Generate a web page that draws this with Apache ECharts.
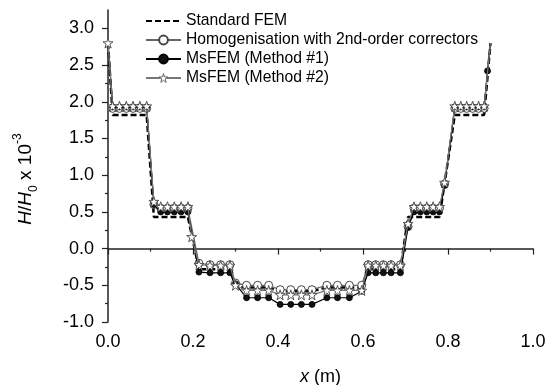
<!DOCTYPE html>
<html>
<head>
<meta charset="utf-8">
<script src="https://cdn.jsdelivr.net/npm/echarts@6/dist/echarts.min.js"></script>
<style>html,body{margin:0;padding:0;background:#fff}#c{width:554px;height:385px}</style>
</head>
<body>
<div id="c"></div>
<script>
// x positions (m)
const xs = [0, 0.011, 0.027, 0.043, 0.059, 0.075, 0.091,
  0.108, 0.124, 0.14, 0.156, 0.172, 0.188, 0.197,
  0.214, 0.24, 0.265, 0.287, 0.3,
  0.326, 0.352, 0.378, 0.405, 0.43, 0.455, 0.48, 0.515, 0.54, 0.568, 0.597,
  0.612, 0.63, 0.648, 0.666, 0.688, 0.706,
  0.72, 0.735, 0.75, 0.765, 0.78, 0.792,
  0.816, 0.83, 0.844, 0.858, 0.872, 0.885, 0.893, 0.9];
// H/H0 x 10^-3 values per series (null = no node)
const stdFEM = [2.8, 1.82, 1.82, 1.82, 1.82, 1.82, 1.82,
  0.43, 0.43, 0.43, 0.43, 0.43, 0.43, null,
  -0.28, -0.28, -0.28, -0.28, -0.52,
  -0.53, -0.53, -0.53, -0.58, -0.58, -0.58, -0.58, -0.53, -0.53, -0.53, -0.53,
  -0.28, -0.28, -0.28, -0.28, -0.28, 0.43,
  0.43, 0.43, 0.43, 0.43, 0.43, null,
  1.82, 1.82, 1.82, 1.82, 1.82, 1.82, null, 2.8];
const homog = [2.8, 1.91, 1.91, 1.91, 1.91, 1.91, 1.91,
  0.6, 0.55, 0.55, 0.55, 0.55, 0.55, null,
  -0.2, -0.22, -0.22, -0.22, -0.47,
  -0.5, -0.5, -0.5, -0.56, -0.56, -0.56, -0.56, -0.5, -0.5, -0.5, -0.5,
  -0.22, -0.22, -0.22, -0.22, -0.22, 0.3,
  0.55, 0.55, 0.55, 0.55, 0.55, 0.88,
  1.91, 1.91, 1.91, 1.91, 1.91, 1.91, null, 2.8];
const msfem1 = [2.8, 1.93, 1.93, 1.93, 1.93, 1.93, 1.93,
  0.6, 0.5, 0.5, 0.5, 0.5, 0.5, null,
  -0.32, -0.33, -0.33, -0.33, -0.48,
  -0.67, -0.67, -0.67, -0.76, -0.76, -0.76, -0.76, -0.67, -0.67, -0.67, -0.58,
  -0.33, -0.33, -0.33, -0.33, -0.33, 0.29,
  0.5, 0.5, 0.5, 0.5, 0.5, 0.86,
  1.93, 1.93, 1.93, 1.93, 1.93, 1.93, 2.42, 2.8];
const msfem2 = [2.8, 1.94, 1.94, 1.94, 1.94, 1.94, 1.94,
  0.64, 0.57, 0.57, 0.57, 0.57, 0.57, 0.16,
  -0.22, -0.23, -0.23, -0.23, -0.5,
  -0.57, -0.57, -0.57, -0.63, -0.63, -0.63, -0.63, -0.57, -0.57, -0.57, -0.57,
  -0.23, -0.23, -0.23, -0.23, -0.23, 0.34,
  0.57, 0.57, 0.57, 0.57, 0.57, 0.9,
  1.94, 1.94, 1.94, 1.94, 1.94, 1.94, null, 2.8];
const seriesNames = ['Standard FEM', 'Homogenisation with 2nd-order correctors', 'MsFEM (Method #1)', 'MsFEM (Method #2)'];
const xTickValues = [0, 0.2, 0.4, 0.6, 0.8, 1.0];
const yTickValues = [-1.0, -0.5, 0.0, 0.5, 1.0, 1.5, 2.0, 2.5, 3.0];
const yMinorTickValues = [-0.75, -0.25, 0.25, 0.75, 1.25, 1.75, 2.25, 2.75];
// indices where the node has no visible marker
const hiddenMarkers = { homog: [0, 49], msfem1: [0, 49], msfem2: [49] };

function build(ys, hidden) {
  const out = [];
  xs.forEach((x, i) => {
    if (ys[i] === null) return;
    if (hidden && hidden.indexOf(i) >= 0) out.push({ value: [x, ys[i]], symbol: 'none' });
    else out.push([x, ys[i]]);
  });
  return out;
}

const STAR = 'path://M50,2 L61,36 L97,36 L68,57 L79,92 L50,71 L21,92 L32,57 L3,36 L39,36 Z';
const FONT = 'Liberation Sans, Arial, sans-serif';

const chart = echarts.init(document.getElementById('c'), null, { renderer: 'canvas' });
chart.setOption({
  animation: false,
  backgroundColor: '#fff',
  grid: { left: 108, right: 21, top: 10, bottom: 63, containLabel: false, outerBoundsMode: 'none' },
  legend: {
    data: [
      { name: seriesNames[0] },
      { name: seriesNames[1] },
      { name: seriesNames[2] },
      { name: seriesNames[3], itemStyle: { color: '#fff', borderColor: '#666', borderWidth: 1 } }
    ],
    orient: 'vertical',
    left: 140, top: 8,
    itemWidth: 35, itemHeight: 11, itemGap: 3,
    textStyle: { fontFamily: FONT, fontSize: 15.7, color: '#000' },
    selectedMode: false
  },
  xAxis: {
    type: 'value', min: 0, max: 1.0, interval: 0.2,
    name: '{i|x} (m)', nameLocation: 'middle', nameGap: 46,
    nameTextStyle: { fontFamily: FONT, fontSize: 18, color: '#000', rich: { i: { fontFamily: FONT, fontSize: 18, fontStyle: 'italic' } } },
    axisLine: { show: true, lineStyle: { color: '#222', width: 1.5 } },
    axisTick: { show: true, inside: false, length: 6, lineStyle: { color: '#222', width: 1.2 } },
    minorTick: { show: true, splitNumber: 2, length: 3, lineStyle: { color: '#222', width: 1.2 } },
    axisLabel: { margin: 11, fontFamily: FONT, fontSize: 18, color: '#000', formatter: v => v.toFixed(1), customValues: xTickValues },
    splitLine: { show: false }
  },
  yAxis: [{
    type: 'value', min: -1.0, max: 3.25, interval: 0.5,
    name: '{i|H}/{i|H}{sub|0} x 10{sup|-3}', nameLocation: 'middle', nameGap: 68, nameRotate: 90,
    nameTextStyle: {
      fontFamily: FONT, fontSize: 19, color: '#000', padding: [0, 26, 0, 0],
      rich: {
        i: { fontFamily: FONT, fontSize: 19, fontStyle: 'italic', lineHeight: 28 },
        sub: { fontFamily: FONT, fontSize: 12, lineHeight: 12, verticalAlign: 'bottom' },
        sup: { fontFamily: FONT, fontSize: 12, lineHeight: 12, verticalAlign: 'top' }
      }
    },
    axisLine: { show: true, onZero: false, lineStyle: { color: '#222', width: 1.5 } },
    axisTick: { show: true, inside: false, length: 6, customValues: yTickValues, lineStyle: { color: '#222', width: 1.2 } },
    axisLabel: { margin: 14, fontFamily: FONT, fontSize: 18, color: '#000', formatter: v => v.toFixed(1), customValues: yTickValues },
    splitLine: { show: false }
  }, {
    type: 'value', min: -1.0, max: 3.25, position: 'left',
    axisLine: { show: false },
    axisTick: { show: true, inside: false, length: 3, customValues: yMinorTickValues, lineStyle: { color: '#222', width: 1.2 } },
    axisLabel: { show: false },
    splitLine: { show: false }
  }],
  series: [
    {
      name: seriesNames[0], type: 'line', data: build(stdFEM), symbol: 'circle', showSymbol: false, symbolSize: 0, z: 2,
      lineStyle: { color: '#000', width: 2.5, type: [6, 3] },
      itemStyle: { color: 'rgba(0,0,0,0)', borderColor: 'rgba(0,0,0,0)', borderWidth: 0 }
    },
    {
      name: seriesNames[1], type: 'line', data: build(homog, hiddenMarkers.homog), symbol: 'circle', symbolSize: 8, z: 3,
      lineStyle: { color: '#666', width: 1.2 }, itemStyle: { color: '#fff', borderColor: '#444', borderWidth: 1 }
    },
    {
      name: seriesNames[2], type: 'line', data: build(msfem1, hiddenMarkers.msfem1), symbol: 'circle', symbolSize: 6, z: 4,
      lineStyle: { color: '#000', width: 1.2 }, itemStyle: { color: '#111', borderColor: '#000', borderWidth: 0.8 }
    },
    {
      name: seriesNames[3], type: 'line', data: build(msfem2, hiddenMarkers.msfem2), symbol: STAR, symbolSize: 10, z: 5,
      lineStyle: { color: '#777', width: 1.2 }, itemStyle: { color: '#fff', borderColor: '#555', borderWidth: 1 }
    }
  ]
});
</script>
</body>
</html>
